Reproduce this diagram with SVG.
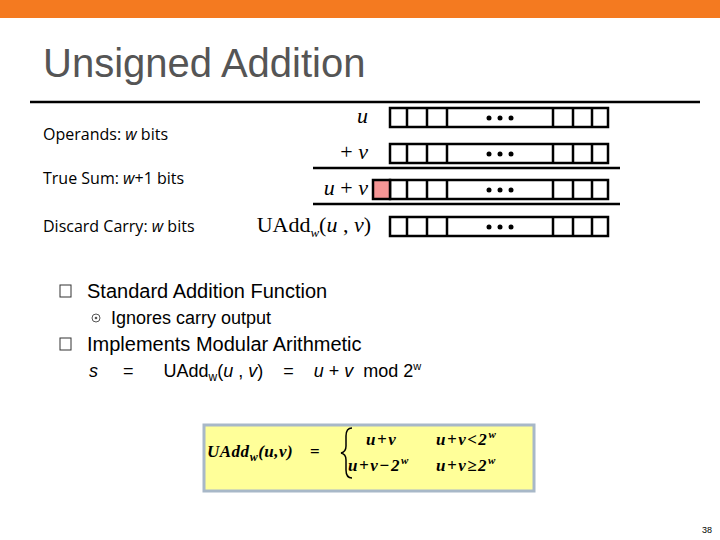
<svg xmlns="http://www.w3.org/2000/svg" width="720" height="540" viewBox="0 0 720 540">
<style>
.c{fill:#fff;stroke:#000;stroke-width:2.5}
.t{font-family:"Times New Roman","Liberation Serif",serif;font-size:22px}
.s{font-family:"Open Sans",sans-serif;font-size:16px}
.a{font-family:"Liberation Sans",sans-serif}
.d{fill:#000}
</style>
<defs>
<g id="row">
<rect class="c" x="0" y="0" width="218" height="19"/>
<path d="M17 0v19M37 0v19M57 0v19M163 0v19M183 0v19M202 0v19" stroke="#000" stroke-width="2.5"/>
<circle class="d" cx="99" cy="10" r="2.5"/><circle class="d" cx="110" cy="10" r="2.5"/><circle class="d" cx="121" cy="10" r="2.5"/>
</g>
</defs>
<rect x="0" y="0" width="720" height="18" fill="#f47a20"/>
<text x="43" y="77" class="a" font-size="40" fill="#555">Unsigned Addition</text>
<g id="connectors" stroke="#000" stroke-width="2.5">
<line x1="30" y1="102" x2="700" y2="102"/>
<line x1="313" y1="168" x2="620" y2="168"/>
<line x1="313" y1="204" x2="620" y2="204"/>
</g>
<g id="labels" class="s">
<text x="43" y="140">Operands: <tspan font-style="italic">w</tspan> bits</text>
<text x="43" y="184">True Sum: <tspan font-style="italic">w</tspan>+1 bits</text>
<text x="43" y="232">Discard Carry: <tspan font-style="italic">w</tspan> bits</text>
</g>
<g id="row-u"><text class="t" x="368" y="123" text-anchor="end" font-style="italic">u</text><use href="#row" x="390" y="108"/></g>
<g id="row-v"><text class="t" x="368" y="159" text-anchor="end">+ <tspan font-style="italic">v</tspan></text><use href="#row" x="390" y="144"/></g>
<g id="row-sum"><text class="t" x="368" y="195" text-anchor="end"><tspan font-style="italic">u</tspan> + <tspan font-style="italic">v</tspan></text><use href="#row" x="390" y="180"/><rect x="373" y="180" width="17" height="19" fill="#f59595" stroke="#000" stroke-width="2.5"/></g>
<g id="row-uadd"><text class="t" x="371" y="232" text-anchor="end">UAdd<tspan font-size="13" dy="5" font-style="italic">w</tspan><tspan dy="-5">(<tspan font-style="italic">u</tspan> , <tspan font-style="italic">v</tspan>)</tspan></text><use href="#row" x="390" y="217"/></g>
<g id="bullets" class="a">
<rect x="60" y="285" width="11" height="12" fill="none" stroke="#333" stroke-width="1"/>
<text x="87" y="298" font-size="20">Standard Addition Function</text>
<circle cx="96" cy="318" r="4" fill="none" stroke="#555"/><circle cx="96" cy="318" r="1.3" fill="#555"/>
<text x="111" y="324" font-size="18">Ignores carry output</text>
<rect x="60" y="338" width="11" height="12" fill="none" stroke="#333" stroke-width="1"/>
<text x="87" y="351" font-size="20">Implements Modular Arithmetic</text>
<text x="89" y="377" font-size="18" xml:space="preserve"><tspan font-style="italic">s</tspan>     =      UAdd<tspan font-size="12" dy="4">w</tspan><tspan dy="-4">(<tspan font-style="italic">u</tspan> , <tspan font-style="italic">v</tspan>)    =    <tspan font-style="italic">u</tspan> + <tspan font-style="italic">v</tspan>  mod 2</tspan><tspan font-size="11" dy="-7">w</tspan></text>
</g>
<g id="formula" font-family="Times New Roman,Liberation Serif,serif" font-style="italic" font-weight="bold" font-size="17">
<rect x="204" y="425" width="330" height="66" fill="#ffff99" stroke="#a8b8c8" stroke-width="3"/>
<text x="207" y="457" letter-spacing="0.5">UAdd<tspan font-size="12" dy="4">w</tspan><tspan dy="-4">(u,v)</tspan></text>
<text x="310" y="457" font-style="normal">=</text>
<path d="M352 428 q-6 0 -6 8 v10 q0 6 -5 7 q5 1 5 7 v10 q0 8 6 8" fill="none" stroke="#000" stroke-width="1.5"/>
<text x="366" y="445" letter-spacing="1.5">u+v</text>
<text x="436" y="445" letter-spacing="1.5">u+v&lt;2<tspan font-size="11" dy="-7">w</tspan></text>
<text x="348" y="471" letter-spacing="1.5">u+v−2<tspan font-size="11" dy="-7">w</tspan></text>
<text x="436" y="471" letter-spacing="1.5">u+v≥2<tspan font-size="11" dy="-7">w</tspan></text>
</g>
<text x="712" y="533" font-family="Liberation Sans,sans-serif" font-size="9" text-anchor="end">38</text>
</svg>
